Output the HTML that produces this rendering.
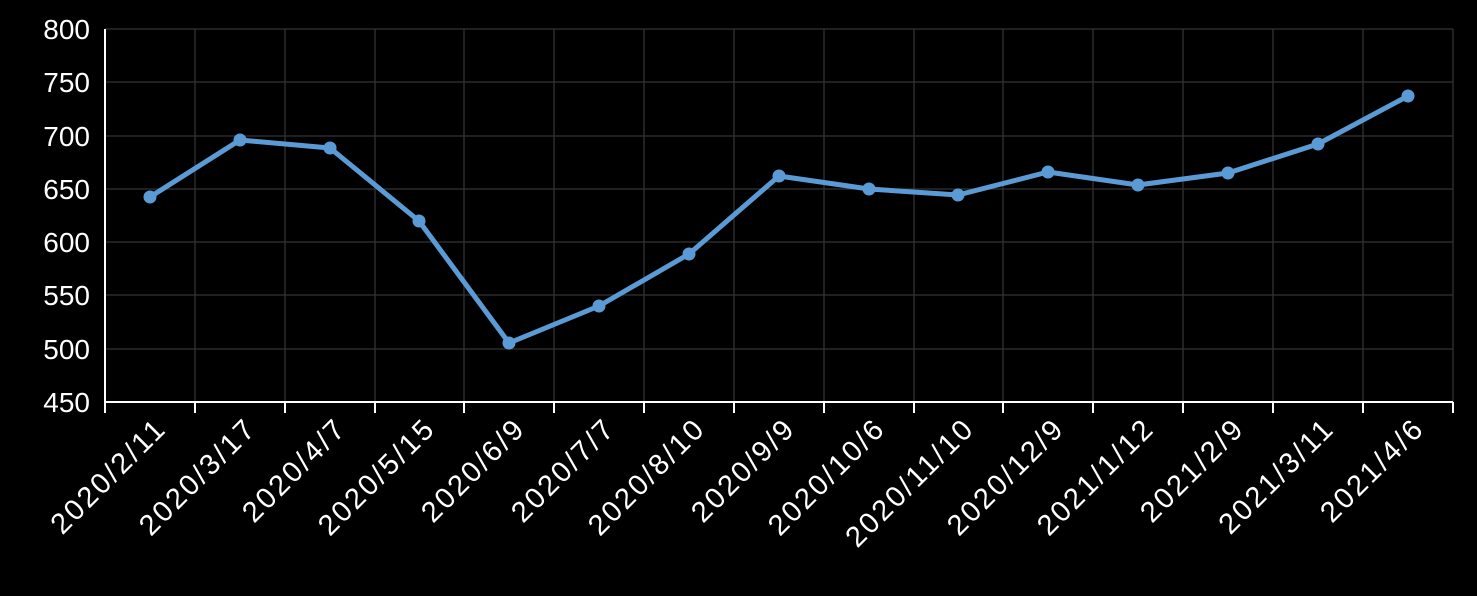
<!DOCTYPE html><html><head><style>body{margin:0;background:#000}</style></head><body>
<svg width="1477" height="591" xmlns="http://www.w3.org/2000/svg" font-family="Liberation Sans, DejaVu Sans, sans-serif">
<rect width="1477" height="591" fill="#000"/>
<g stroke="#333" stroke-width="1.3">
<line x1="105" x2="1453" y1="29" y2="29"/><line x1="105" x2="1453" y1="82" y2="82"/><line x1="105" x2="1453" y1="136" y2="136"/><line x1="105" x2="1453" y1="189" y2="189"/><line x1="105" x2="1453" y1="242" y2="242"/><line x1="105" x2="1453" y1="295" y2="295"/><line x1="105" x2="1453" y1="349" y2="349"/>
<line x1="195" x2="195" y1="29" y2="402"/><line x1="285" x2="285" y1="29" y2="402"/><line x1="375" x2="375" y1="29" y2="402"/><line x1="464" x2="464" y1="29" y2="402"/><line x1="554" x2="554" y1="29" y2="402"/><line x1="644" x2="644" y1="29" y2="402"/><line x1="734" x2="734" y1="29" y2="402"/><line x1="824" x2="824" y1="29" y2="402"/><line x1="914" x2="914" y1="29" y2="402"/><line x1="1003" x2="1003" y1="29" y2="402"/><line x1="1093" x2="1093" y1="29" y2="402"/><line x1="1183" x2="1183" y1="29" y2="402"/><line x1="1273" x2="1273" y1="29" y2="402"/><line x1="1363" x2="1363" y1="29" y2="402"/><line x1="1453" x2="1453" y1="29" y2="402"/>
</g>
<g stroke="#fff" stroke-width="2">
<line x1="105" x2="105" y1="29" y2="413"/><line x1="105" x2="1453" y1="402" y2="402"/>
<line x1="195" x2="195" y1="402" y2="413"/><line x1="285" x2="285" y1="402" y2="413"/><line x1="375" x2="375" y1="402" y2="413"/><line x1="464" x2="464" y1="402" y2="413"/><line x1="554" x2="554" y1="402" y2="413"/><line x1="644" x2="644" y1="402" y2="413"/><line x1="734" x2="734" y1="402" y2="413"/><line x1="824" x2="824" y1="402" y2="413"/><line x1="914" x2="914" y1="402" y2="413"/><line x1="1003" x2="1003" y1="402" y2="413"/><line x1="1093" x2="1093" y1="402" y2="413"/><line x1="1183" x2="1183" y1="402" y2="413"/><line x1="1273" x2="1273" y1="402" y2="413"/><line x1="1363" x2="1363" y1="402" y2="413"/><line x1="1453" x2="1453" y1="402" y2="413"/>
</g>
<g fill="#fff" font-size="28" text-anchor="end">
<text x="90" y="39">800</text><text x="90" y="92">750</text><text x="90" y="146">700</text><text x="90" y="199">650</text><text x="90" y="252">600</text><text x="90" y="305">550</text><text x="90" y="359">500</text><text x="90" y="412">450</text>
</g>
<g fill="#fff" font-size="29" letter-spacing="2.5" text-anchor="end">
<text transform="translate(168,430) rotate(-45)">2020/2/11</text>
<text transform="translate(258,430) rotate(-45)">2020/3/17</text>
<text transform="translate(348,430) rotate(-45)">2020/4/7</text>
<text transform="translate(437,430) rotate(-45)">2020/5/15</text>
<text transform="translate(527,430) rotate(-45)">2020/6/9</text>
<text transform="translate(617,430) rotate(-45)">2020/7/7</text>
<text transform="translate(707,430) rotate(-45)">2020/8/10</text>
<text transform="translate(797,430) rotate(-45)">2020/9/9</text>
<text transform="translate(887,430) rotate(-45)">2020/10/6</text>
<text transform="translate(976,430) rotate(-45)">2020/11/10</text>
<text transform="translate(1066,430) rotate(-45)">2020/12/9</text>
<text transform="translate(1156,430) rotate(-45)">2021/1/12</text>
<text transform="translate(1246,430) rotate(-45)">2021/2/9</text>
<text transform="translate(1336,430) rotate(-45)">2021/3/11</text>
<text transform="translate(1426,430) rotate(-45)">2021/4/6</text>
</g>
<polyline fill="none" stroke="#5b9bd5" stroke-width="5" stroke-linejoin="round" points="150,197 240,140 330,148 419,221 509,343 599,306 689,254 779,176 869,189 958,195 1048,172 1138,185 1228,173 1318,144 1408,96"/>
<g fill="#5b9bd5">
<circle cx="150" cy="197" r="6.5"/><circle cx="240" cy="140" r="6.5"/><circle cx="330" cy="148" r="6.5"/><circle cx="419" cy="221" r="6.5"/><circle cx="509" cy="343" r="6.5"/><circle cx="599" cy="306" r="6.5"/><circle cx="689" cy="254" r="6.5"/><circle cx="779" cy="176" r="6.5"/><circle cx="869" cy="189" r="6.5"/><circle cx="958" cy="195" r="6.5"/><circle cx="1048" cy="172" r="6.5"/><circle cx="1138" cy="185" r="6.5"/><circle cx="1228" cy="173" r="6.5"/><circle cx="1318" cy="144" r="6.5"/><circle cx="1408" cy="96" r="6.5"/>
</g>
</svg>
</body></html>
